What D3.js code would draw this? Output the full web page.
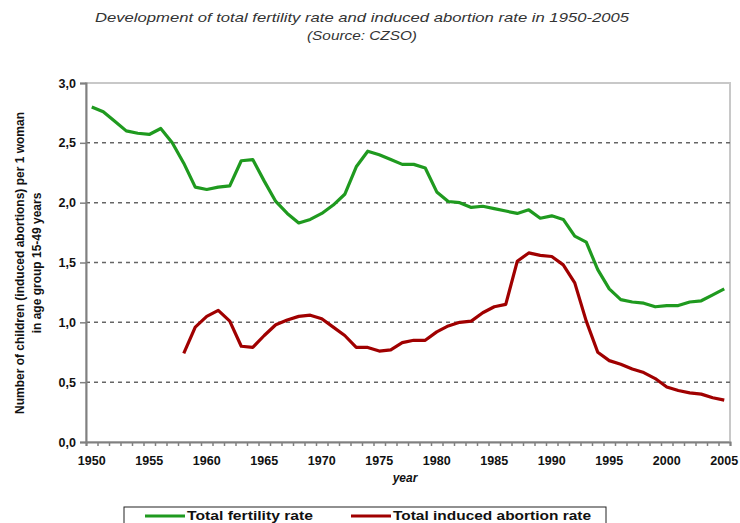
<!DOCTYPE html>
<html>
<head>
<meta charset="utf-8">
<script src="https://cdn.jsdelivr.net/npm/d3@7"></script>
<style>
  body { margin: 0; background: #fff; }
  svg text { font-family: "Liberation Sans", Arial, sans-serif; }
</style>
</head>
<body>
<svg id="Viz" width="740" height="523"></svg>
<script>
var years = d3.range(1950, 2006);

var fertility = [2.80, 2.76, 2.68, 2.60, 2.58, 2.57, 2.62, 2.50, 2.33, 2.13,
  2.11, 2.13, 2.14, 2.35, 2.36, 2.18, 2.01, 1.91, 1.83, 1.86,
  1.91, 1.98, 2.07, 2.30, 2.43, 2.40, 2.36, 2.32, 2.32, 2.29,
  2.09, 2.01, 2.00, 1.96, 1.97, 1.95, 1.93, 1.91, 1.94, 1.87,
  1.89, 1.86, 1.72, 1.67, 1.44, 1.28, 1.19, 1.17, 1.16, 1.13,
  1.14, 1.14, 1.17, 1.18, 1.23, 1.28];

// no abortion data before 1958
var abortion = [null, null, null, null, null, null, null, null, 0.74, 0.96,
  1.05, 1.10, 1.01, 0.80, 0.79, 0.89, 0.98, 1.02, 1.05, 1.06,
  1.03, 0.96, 0.89, 0.79, 0.79, 0.76, 0.77, 0.83, 0.85, 0.85,
  0.92, 0.97, 1.00, 1.01, 1.08, 1.13, 1.15, 1.51, 1.58, 1.56,
  1.55, 1.48, 1.33, 1.01, 0.75, 0.68, 0.65, 0.61, 0.58, 0.53,
  0.46, 0.43, 0.41, 0.40, 0.37, 0.35];

var yTicks = [0, 0.5, 1, 1.5, 2, 2.5, 3];
var xLabels = d3.range(1950, 2006, 5);
var seriesNames = ["Total fertility rate", "Total induced abortion rate"];
var seriesColors = ["#1f9a1f", "#a00000"];

var svg = d3.select("#Viz");
var pLeft = 86, pRight = 730, pTop = 83, pBottom = 442;

var x = d3.scaleLinear().domain([1949.5, 2005.5]).range([pLeft, pRight]);
var y = d3.scaleLinear().domain([0, 3]).range([pBottom, pTop]);

// title
svg.append("text")
  .attr("x", 362).attr("y", 22)
  .attr("text-anchor", "middle")
  .attr("textLength", 534).attr("lengthAdjust", "spacingAndGlyphs")
  .style("font-style", "italic").style("font-size", "13.5px").attr("fill", "#333")
  .text("Development of total fertility rate and induced abortion rate in 1950-2005");
svg.append("text")
  .attr("x", 362).attr("y", 40)
  .attr("text-anchor", "middle")
  .attr("textLength", 110).attr("lengthAdjust", "spacingAndGlyphs")
  .style("font-style", "italic").style("font-size", "13.5px").attr("fill", "#333")
  .text("(Source: CZSO)");

// plot frame
svg.append("rect")
  .attr("x", pLeft).attr("y", pTop)
  .attr("width", pRight - pLeft).attr("height", pBottom - pTop)
  .attr("fill", "none").attr("stroke", "#c8c8c8").attr("stroke-width", 2);

// grid
svg.append("g").selectAll("line")
  .data(yTicks.filter(function(d) { return d > 0 && d < 3; }))
  .enter().append("line")
  .attr("x1", pLeft).attr("x2", pRight)
  .attr("y1", function(d) { return y(d); })
  .attr("y2", function(d) { return y(d); })
  .attr("stroke", "#666").attr("stroke-width", 1.5)
  .attr("stroke-dasharray", "4,4");

// y axis
var yAxis = svg.append("g")
  .attr("transform", "translate(" + pLeft + ",0)")
  .call(d3.axisLeft(y).tickValues(yTicks).tickSize(6).tickPadding(4)
    .tickFormat(function(d) { return d3.format(".1f")(d).replace(".", ","); }));
yAxis.select(".domain").attr("stroke", "#808080").attr("stroke-width", 2);
yAxis.selectAll(".tick line").attr("stroke", "#808080").attr("stroke-width", 1.5);
yAxis.selectAll("text").style("font-size", "12.5px").style("font-weight", "bold")
  .style("font-family", "'Liberation Sans', Arial, sans-serif").attr("fill", "#111");

// x axis
var xAxis = svg.append("g")
  .attr("transform", "translate(0," + pBottom + ")")
  .call(d3.axisBottom(x).tickValues(d3.range(1949.5, 2006, 1)).tickSize(4).tickFormat(""));
xAxis.select(".domain").attr("stroke", "#808080").attr("stroke-width", 2);
xAxis.selectAll(".tick line").attr("stroke", "#808080").attr("stroke-width", 1.5);

svg.append("g").selectAll("text")
  .data(xLabels)
  .enter().append("text")
  .attr("x", function(d) { return x(d); })
  .attr("y", pBottom + 23)
  .attr("text-anchor", "middle")
  .style("font-size", "12.5px").style("font-weight", "bold").attr("fill", "#111")
  .text(function(d) { return d; });

svg.append("text")
  .attr("x", 405).attr("y", 482)
  .attr("text-anchor", "middle")
  .style("font-size", "12px").style("font-weight", "bold").style("font-style", "italic")
  .attr("fill", "#111")
  .text("year");

// y label (two lines)
var yl = svg.append("text")
  .attr("transform", "translate(0,263) rotate(-90)")
  .attr("text-anchor", "middle")
  .style("font-family", "'Liberation Sans Narrow', 'Arial Narrow', sans-serif")
  .style("font-size", "12px").style("font-weight", "bold").attr("fill", "#111");
yl.append("tspan").attr("x", 0).attr("y", 24).text("Number of children (induced abortions) per 1 woman");
yl.append("tspan").attr("x", 0).attr("y", 41).text("in age group 15-49 years");

// lines
var line = d3.line()
  .defined(function(d) { return d.v != null; })
  .x(function(d) { return x(d.year); })
  .y(function(d) { return y(d.v); });

[fertility, abortion].forEach(function(vals, i) {
  var pts = years.map(function(yr, j) { return {year: yr, v: vals[j]}; });
  svg.append("path")
    .datum(pts)
    .attr("d", line)
    .attr("fill", "none")
    .attr("stroke", seriesColors[i])
    .attr("stroke-width", 3.2)
    .attr("stroke-linejoin", "round");
});

// legend
svg.append("rect")
  .attr("x", 124).attr("y", 507).attr("width", 482).attr("height", 30)
  .attr("fill", "#fff").attr("stroke", "#222").attr("stroke-width", 1);

var legX = [145, 351];
var legLen = [126, 198];
seriesNames.forEach(function(name, i) {
  svg.append("line")
    .attr("x1", legX[i]).attr("x2", legX[i] + 40)
    .attr("y1", 516).attr("y2", 516)
    .attr("stroke", seriesColors[i]).attr("stroke-width", 3.2);
  svg.append("text")
    .attr("x", legX[i] + 42).attr("y", 520)
    .attr("textLength", legLen[i]).attr("lengthAdjust", "spacingAndGlyphs")
    .style("font-size", "12.5px").style("font-weight", "bold").attr("fill", "#111")
    .text(name);
});
</script>
</body>
</html>
